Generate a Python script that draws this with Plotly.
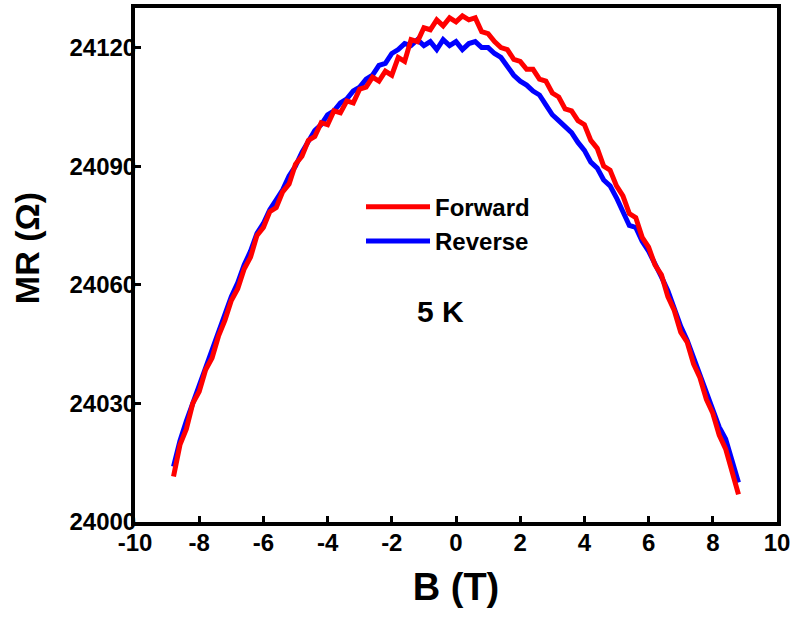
import plotly.graph_objects as go

B_field = [-8.8, -8.6, -8.4, -8.2, -8.0, -7.8, -7.6, -7.4, -7.2, -7.0,
           -6.8, -6.6, -6.4, -6.2, -6.0, -5.8, -5.6, -5.4, -5.2, -5.0,
           -4.8, -4.6, -4.4, -4.2, -4.0, -3.8, -3.6, -3.4, -3.2, -3.0,
           -2.8, -2.6, -2.4, -2.2, -2.0, -1.8, -1.6, -1.4, -1.2, -1.0,
           -0.8, -0.6, -0.4, -0.2, 0.0, 0.2, 0.4, 0.6, 0.8, 1.0,
           1.2, 1.4, 1.6, 1.8, 2.0, 2.2, 2.4, 2.6, 2.8, 3.0,
           3.2, 3.4, 3.6, 3.8, 4.0, 4.2, 4.4, 4.6, 4.8, 5.0,
           5.2, 5.4, 5.6, 5.8, 6.0, 6.2, 6.4, 6.6, 6.8, 7.0,
           7.2, 7.4, 7.6, 7.8, 8.0, 8.2, 8.4, 8.6, 8.8]

mr_forward = [24011.5, 24019.5, 24023.5, 24030, 24033, 24038.5, 24041.5, 24047, 24051, 24056,
              24059, 24064, 24067, 24072.5, 24074.5, 24078.5, 24079.5, 24083.5, 24085.5, 24090.5,
              24092.5, 24096.5, 24097.5, 24101, 24100.5, 24104, 24103.5, 24106.5, 24106, 24109.5,
              24110, 24112.5, 24111.5, 24114, 24113, 24117.5, 24116.5, 24122, 24121.5, 24125,
              24124.5, 24127, 24125.5, 24127.5, 24126.5, 24128, 24127, 24127.5, 24124, 24123.5,
              24121.5, 24120, 24119.5, 24117, 24116.5, 24114.5, 24114.5, 24112, 24111.5, 24108.5,
              24107.5, 24104.5, 24104, 24101.5, 24100.5, 24096.5, 24094.5, 24090, 24089, 24085,
              24082.5, 24078, 24077, 24072, 24069.5, 24065, 24062.5, 24057, 24053.5, 24048,
              24045.5, 24040, 24036.5, 24031, 24027.5, 24022, 24018.5, 24013, 24007]

mr_reverse = [24014, 24020.5, 24025.5, 24030.5, 24034.5, 24039, 24043.5, 24048, 24052.5, 24057,
              24060.5, 24065, 24068.5, 24073, 24075.5, 24079, 24081.5, 24084, 24087.5, 24090,
              24093.5, 24096, 24099, 24100.5, 24103, 24104, 24106, 24107, 24109, 24110,
              24112, 24113, 24115.5, 24116, 24118.5, 24119.5, 24121, 24120.5, 24122, 24120.5,
              24121.5, 24119.5, 24122, 24120.5, 24121.5, 24119.5, 24121, 24121.5, 24120, 24120,
              24118.5, 24117.5, 24115, 24113, 24111.5, 24110.5, 24109, 24108, 24105.5, 24103,
              24101.5, 24100, 24098.5, 24096, 24094, 24091, 24089.5, 24086.5, 24085, 24082,
              24078.5, 24075, 24074.5, 24071, 24068.5, 24065.5, 24062, 24058.5, 24054, 24049.5,
              24046, 24041.5, 24037, 24032.5, 24028, 24024, 24021, 24016, 24010]

x_ticks = [-10, -8, -6, -4, -2, 0, 2, 4, 6, 8, 10]
y_ticks = [24000, 24030, 24060, 24090, 24120]

FONT = "Arial, 'Liberation Sans', sans-serif"

fig = go.Figure()
fig.add_trace(go.Scatter(x=B_field, y=mr_reverse, mode="lines", name="Reverse",
                         line=dict(color="#0000ff", width=5)))
fig.add_trace(go.Scatter(x=B_field, y=mr_forward, mode="lines", name="Forward",
                         line=dict(color="#ff0000", width=5)))

axis_common = dict(showline=True, linewidth=4, linecolor="black", mirror=True,
                   ticks="inside", ticklen=6, tickwidth=3, tickcolor="black",
                   showgrid=False, zeroline=False)

fig.update_xaxes(range=[-10, 10], tickvals=x_ticks, ticktext=[str(v) for v in x_ticks],
                 tickfont=dict(family=FONT, size=24, color="black", weight="bold"),
                 ticklabelstandoff=-4,
                 title=dict(text="<b>B (T)</b>", font=dict(family=FONT, size=38, color="black"),
                            standoff=20),
                 **axis_common)
fig.update_yaxes(range=[24000, 24130], tickvals=y_ticks, ticktext=[str(v) for v in y_ticks],
                 tickfont=dict(family=FONT, size=24, color="black", weight="bold"),
                 ticklabelstandoff=-10,
                 **axis_common)

fig.add_annotation(text="<b>MR (Ω)</b>", xref="paper", yref="paper",
                   x=(27 - 135) / 642, y=(522 - 246) / 518, textangle=-90,
                   xanchor="center", yanchor="middle",
                   showarrow=False, font=dict(family=FONT, size=34, color="black"))
fig.add_annotation(text="<b>5 K</b>", xref="paper", yref="paper",
                   x=(440 - 135) / 642, y=(522 - 310) / 518,
                   xanchor="center", yanchor="middle",
                   showarrow=False, font=dict(family=FONT, size=30, color="black"))

fig.update_layout(
    width=796, height=617,
    margin=dict(l=135, r=19, t=4, b=95),
    plot_bgcolor="white", paper_bgcolor="white",
    legend=dict(x=(361 - 135) / 642, y=(522 - 182) / 518, xanchor="left", yanchor="top",
                traceorder="reversed", bgcolor="rgba(0,0,0,0)", itemwidth=64,
                font=dict(family=FONT, size=24, color="black", weight="bold"),
                tracegroupgap=0),
    showlegend=True,
)

fig.write_html("out.html", config={"displayModeBar": False},
               post_script="document.body.style.margin='0px';")
